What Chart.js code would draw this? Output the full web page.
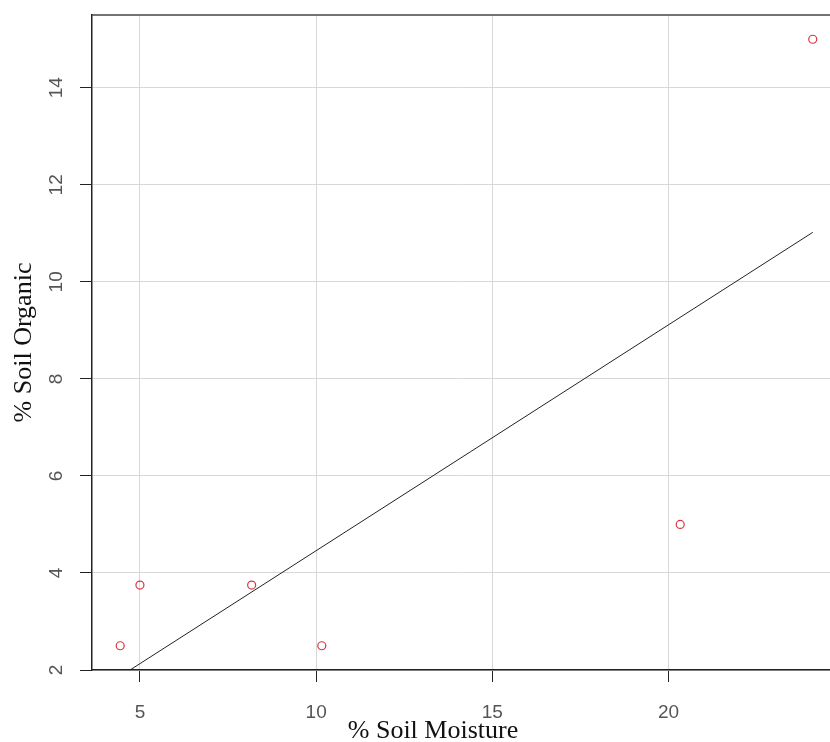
<!DOCTYPE html>
<html>
<head>
<meta charset="utf-8">
<script src="https://cdn.jsdelivr.net/npm/chart.js@4"></script>
<style>
  body { margin: 0; background: #fff; }
  canvas { display: block; }
</style>
</head>
<body>
<canvas id="chart" width="830" height="742"></canvas>
<script>
// values
const soilMoisture = [4.44, 5.0, 8.17, 10.16, 20.33, 24.09];
const soilOrganic = [2.5, 3.75, 3.75, 2.5, 5.0, 15.0];
const fitX = [4.44, 24.09];
const fitY = [1.87, 11.02];
const xTicks = [5, 10, 15, 20];
const yTicks = [2, 4, 6, 8, 10, 12, 14];
const xTitle = "% Soil Moisture";
const yTitle = "% Soil Organic";

const points = soilMoisture.map((x, i) => ({x, y: soilOrganic[i]}));
const fit = fitX.map((x, i) => ({x, y: fitY[i]}));

// R-style extras: top box line, rotated y labels, axis titles
const rStyle = {
    id: "rStyle",
    afterDraw(c) {
        const ctx = c.ctx, a = c.chartArea, ys = c.scales.y;
        ctx.save();
        ctx.strokeStyle = "#444";
        ctx.lineWidth = 1.5;
        ctx.beginPath(); ctx.moveTo(a.left, a.top); ctx.lineTo(a.right, a.top); ctx.stroke();

        ctx.fillStyle = "#555";
        ctx.font = "19px 'Liberation Sans', Arial, sans-serif";
        ctx.textAlign = "center"; ctx.textBaseline = "middle";
        yTicks.forEach(v => {
            ctx.save();
            ctx.translate(57, ys.getPixelForValue(v));
            ctx.rotate(-Math.PI / 2);
            ctx.fillText(String(v), 0, 0);
            ctx.restore();
        });

        ctx.fillStyle = "#111";
        ctx.font = "26px 'Liberation Serif', 'Times New Roman', serif";
        ctx.fillText(xTitle, 433, 731);
        ctx.save();
        ctx.translate(24, (a.top + a.bottom) / 2);
        ctx.rotate(-Math.PI / 2);
        ctx.fillText(yTitle, 0, 0);
        ctx.restore();
        ctx.restore();
    }
};

new Chart(document.getElementById("chart"), {
    type: "scatter",
    data: {
        datasets: [
            { data: points, borderColor: "#d9363e", backgroundColor: "rgba(0,0,0,0)", borderWidth: 1.2, pointRadius: 4, clip: 0 },
            { data: fit, showLine: true, borderColor: "#222", borderWidth: 1, pointRadius: 0, clip: 0 }
        ]
    },
    options: {
        responsive: false,
        animation: false,
        layout: { autoPadding: false, padding: { top: 15, right: 0, left: 0, bottom: 0 } },
        plugins: { legend: { display: false }, tooltip: { enabled: false } },
        scales: {
            x: {
                type: "linear", min: 3.64, max: 24.58,
                afterBuildTicks: s => { s.ticks = xTicks.map(v => ({value: v})); },
                afterFit: s => { s.height = 72; s.paddingLeft = 0; s.paddingRight = 0; },
                grid: { color: "#d8d8d8", tickColor: "#222", tickLength: 12, lineWidth: 1 },
                border: { color: "#222", width: 1.5 },
                ticks: { color: "#555", padding: 19, font: { family: "'Liberation Sans', Arial, sans-serif", size: 19 } }
            },
            y: {
                type: "linear", min: 2, max: 15.5,
                afterBuildTicks: s => { s.ticks = yTicks.map(v => ({value: v})); },
                afterFit: s => { s.width = 92; },
                grid: { color: "#d8d8d8", tickColor: "#222", tickLength: 12, lineWidth: 1 },
                border: { color: "#222", width: 1.5 },
                ticks: { display: false }
            }
        }
    },
    plugins: [rStyle]
});
</script>
</body>
</html>
